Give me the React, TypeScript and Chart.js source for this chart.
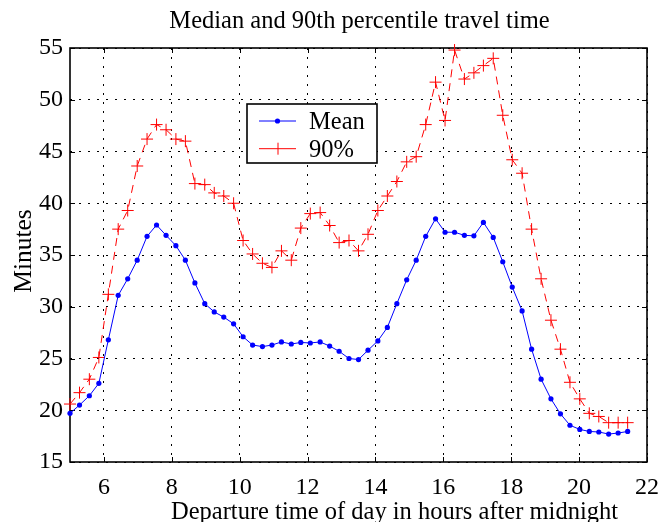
import React, { useEffect, useRef } from "react";
import { Chart, registerables } from "chart.js";

Chart.register(...registerables);

// Departure time (hours after midnight)
const hours = [
  5.0, 5.28, 5.57, 5.85, 6.13, 6.42, 6.7, 6.98, 7.27, 7.55, 7.83, 8.12, 8.4, 8.68, 8.97,
  9.25, 9.53, 9.82, 10.1, 10.38, 10.67, 10.95, 11.23, 11.52, 11.8, 12.08, 12.37, 12.65,
  12.93, 13.22, 13.5, 13.78, 14.07, 14.35, 14.63, 14.92, 15.2, 15.48, 15.77, 16.05, 16.33,
  16.62, 16.9, 17.18, 17.47, 17.75, 18.03, 18.32, 18.6, 18.88, 19.17, 19.45, 19.73, 20.02,
  20.3, 20.58, 20.87, 21.15, 21.43,
];

// Mean travel time (minutes)
const meanMinutes = [
  19.7, 20.5, 21.4, 22.6, 26.8, 31.1, 32.7, 34.5, 36.8, 37.9, 36.9, 35.9, 34.5, 32.3, 30.3,
  29.5, 29.0, 28.35, 27.1, 26.3, 26.15, 26.3, 26.6, 26.4, 26.55, 26.5, 26.6, 26.2, 25.7,
  25.0, 24.9, 25.8, 26.7, 28.0, 30.3, 32.6, 34.5, 36.8, 38.5, 37.2, 37.2, 36.9, 36.85,
  38.15, 36.7, 34.35, 31.9, 29.6, 25.9, 23.0, 21.1, 19.65, 18.55, 18.15, 17.95, 17.9, 17.7,
  17.8, 17.95,
];

// 90th percentile travel time (minutes)
const p90Minutes = [
  20.6, 21.7, 23.0, 25.1, 31.2, 37.5, 39.3, 43.6, 46.2, 47.6, 47.1, 46.2, 46.0, 41.9, 41.8,
  41.0, 40.7, 40.0, 36.4, 35.1, 34.2, 33.8, 35.4, 34.5, 37.6, 39.0, 39.1, 37.85, 36.2, 36.4,
  35.4, 37.0, 39.3, 40.7, 42.1, 44.0, 44.5, 47.6, 51.7, 48.0, 54.8, 52.0, 52.6, 53.3, 54.0,
  48.5, 44.2, 42.9, 37.5, 32.7, 28.7, 25.9, 22.7, 21.1, 19.7, 19.4, 18.8, 18.8, 18.8,
];

const xTickValues = [6, 8, 10, 12, 14, 16, 18, 20, 22];
const yTickValues = [15, 20, 25, 30, 35, 40, 45, 50, 55];
const seriesLabels = ["Mean", "90%"];

const titleText = "Median and 90th percentile travel time";
const xTitleText = "Departure time of day in hours after midnight";
const yTitleText = "Minutes";

const FONT = '"Liberation Serif", "Times New Roman", Times, serif';

const framePlugin = {
  id: "frame",
  beforeDatasetsDraw(chart: any) {
    const { ctx, chartArea, scales } = chart;
    const { left, right, top, bottom } = chartArea;
    ctx.save();
    ctx.strokeStyle = "#000";
    ctx.lineWidth = 1;
    const tl = 5;
    ctx.beginPath();
    xTickValues.forEach((v) => {
      const x = Math.round(scales.x.getPixelForValue(v)) + 0.5;
      ctx.moveTo(x, bottom);
      ctx.lineTo(x, bottom - tl);
      ctx.moveTo(x, top);
      ctx.lineTo(x, top + tl);
    });
    yTickValues.forEach((v) => {
      const y = Math.round(scales.y.getPixelForValue(v)) + 0.5;
      ctx.moveTo(left, y);
      ctx.lineTo(left + tl, y);
      ctx.moveTo(right, y);
      ctx.lineTo(right - tl, y);
    });
    ctx.stroke();
    ctx.lineWidth = 1.6;
    ctx.strokeRect(left, top, right - left, bottom - top);
    ctx.restore();
  },
  afterDatasetsDraw(chart: any) {
    const { ctx, chartArea } = chart;
    const bx = chartArea.left + 177;
    const by = chartArea.top + 56;
    const bw = 130;
    const bh = 59;
    ctx.save();
    ctx.fillStyle = "#fff";
    ctx.fillRect(bx, by, bw, bh);
    ctx.strokeStyle = "#000";
    ctx.lineWidth = 1.6;
    ctx.strokeRect(bx, by, bw, bh);

    // Mean entry
    const ly1 = by + 17;
    ctx.strokeStyle = "#0000ff";
    ctx.lineWidth = 1;
    ctx.beginPath();
    ctx.moveTo(bx + 12, ly1);
    ctx.lineTo(bx + 49, ly1);
    ctx.stroke();
    ctx.fillStyle = "#0000ff";
    ctx.beginPath();
    ctx.arc(bx + 30.5, ly1, 2.6, 0, Math.PI * 2);
    ctx.fill();

    // 90% entry
    const ly2 = by + 44.7;
    ctx.strokeStyle = "#ff0000";
    ctx.beginPath();
    ctx.moveTo(bx + 12, ly2);
    ctx.lineTo(bx + 49, ly2);
    ctx.moveTo(bx + 31, ly2 - 6);
    ctx.lineTo(bx + 31, ly2 + 6);
    ctx.stroke();

    ctx.fillStyle = "#000";
    ctx.font = `24.5px ${FONT}`;
    ctx.textAlign = "left";
    ctx.textBaseline = "alphabetic";
    ctx.fillText(seriesLabels[0], bx + 62, by + 25.3);
    ctx.fillText(seriesLabels[1], bx + 62, by + 52.7);
    ctx.restore();
  },
  afterDraw(chart: any) {
    const { ctx, chartArea } = chart;
    ctx.save();
    ctx.fillStyle = "#000";
    ctx.textBaseline = "alphabetic";
    ctx.textAlign = "center";
    ctx.font = `24.5px ${FONT}`;
    ctx.fillText(titleText, (chartArea.left + chartArea.right) / 2 + 1, 28.3);
    ctx.fillText(xTitleText, 394.5, 519);
    ctx.translate(30.7, 251);
    ctx.rotate(-Math.PI / 2);
    ctx.font = `25.5px ${FONT}`;
    ctx.fillText(yTitleText, 0, 0);
    ctx.restore();
  },
};

export default function App() {
  const canvasRef = useRef<HTMLCanvasElement | null>(null);

  useEffect(() => {
    if (!canvasRef.current) return;
    const meanData = hours.map((h, i) => ({ x: h, y: meanMinutes[i] }));
    const p90Data = hours.map((h, i) => ({ x: h, y: p90Minutes[i] }));

    const chart = new Chart(canvasRef.current, {
      type: "line",
      data: {
        datasets: [
          {
            label: seriesLabels[0],
            data: meanData,
            borderColor: "#0000ff",
            backgroundColor: "#0000ff",
            borderWidth: 1,
            pointStyle: "circle",
            pointRadius: 2.6,
            pointBorderWidth: 0,
            pointBackgroundColor: "#0000ff",
            tension: 0,
            clip: false as any,
          },
          {
            label: seriesLabels[1],
            data: p90Data,
            borderColor: "#ff0000",
            backgroundColor: "#ff0000",
            borderWidth: 1,
            borderDash: [8, 6],
            pointStyle: "cross",
            pointRadius: 6,
            pointBorderWidth: 1,
            pointBorderColor: "#ff0000",
            tension: 0,
            clip: false as any,
          },
        ],
      },
      options: {
        animation: false,
        responsive: false,
        devicePixelRatio: 1,
        layout: { padding: { left: 0, right: 13, top: 48, bottom: 0 } },
        plugins: {
          legend: { display: false },
          title: { display: false },
          tooltip: { enabled: false },
        },
        scales: {
          x: {
            type: "linear",
            min: 5,
            max: 22,
            afterBuildTicks: (scale: any) => {
              scale.ticks = xTickValues.map((v) => ({ value: v }));
            },
            afterFit: (scale: any) => {
              scale.height = 60;
            },
            grid: {
              color: "#000",
              lineWidth: 1,
              drawTicks: false,
            },
            border: { display: false, dash: [2, 7] },
            ticks: {
              color: "#000",
              font: { family: FONT, size: 24 },
              padding: 11,
              maxRotation: 0,
              autoSkip: false,
            },
          },
          y: {
            type: "linear",
            min: 15,
            max: 55,
            afterBuildTicks: (scale: any) => {
              scale.ticks = yTickValues.map((v) => ({ value: v }));
            },
            afterFit: (scale: any) => {
              scale.width = 70;
            },
            grid: {
              color: "#000",
              lineWidth: 1,
              drawTicks: false,
            },
            border: { display: false, dash: [2, 7] },
            ticks: {
              color: "#000",
              font: { family: FONT, size: 24 },
              padding: 7,
              autoSkip: false,
            },
          },
        },
      },
      plugins: [framePlugin],
    });

    return () => chart.destroy();
  }, []);

  return (
    <div style={{ position: "absolute", left: 0, top: 0, width: 670, height: 522, background: "#fff" }}>
      <canvas ref={canvasRef} width={670} height={522} />
    </div>
  );
}
